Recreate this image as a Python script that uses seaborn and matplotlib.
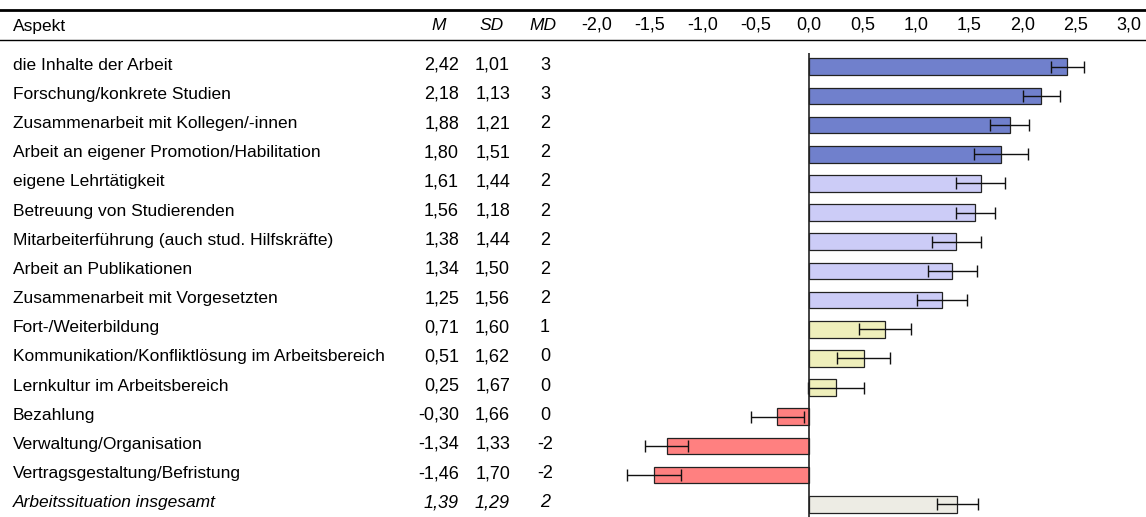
import matplotlib
matplotlib.use("Agg")
import matplotlib.pyplot as plt
import matplotlib.transforms as mtransforms
from matplotlib.lines import Line2D
import seaborn as sns
import pandas as pd

aspects = [
    "die Inhalte der Arbeit",
    "Forschung/konkrete Studien",
    "Zusammenarbeit mit Kollegen/-innen",
    "Arbeit an eigener Promotion/Habilitation",
    "eigene Lehrtätigkeit",
    "Betreuung von Studierenden",
    "Mitarbeiterführung (auch stud. Hilfskräfte)",
    "Arbeit an Publikationen",
    "Zusammenarbeit mit Vorgesetzten",
    "Fort-/Weiterbildung",
    "Kommunikation/Konfliktlösung im Arbeitsbereich",
    "Lernkultur im Arbeitsbereich",
    "Bezahlung",
    "Verwaltung/Organisation",
    "Vertragsgestaltung/Befristung",
    "Arbeitssituation insgesamt",
]
means = [2.42, 2.18, 1.88, 1.80, 1.61, 1.56, 1.38, 1.34, 1.25, 0.71, 0.51, 0.25, -0.30, -1.34, -1.46, 1.39]
sds = [1.01, 1.13, 1.21, 1.51, 1.44, 1.18, 1.44, 1.50, 1.56, 1.60, 1.62, 1.67, 1.66, 1.33, 1.70, 1.29]
mds = [3, 3, 2, 2, 2, 2, 2, 2, 2, 1, 0, 0, 0, -2, -2, 2]
# half-width of the error bars
err = [0.155, 0.178, 0.18, 0.25, 0.228, 0.185, 0.23, 0.23, 0.235, 0.248, 0.246, 0.26, 0.25, 0.20, 0.255, 0.193]
groups = ["hoch"] * 4 + ["mittel"] * 5 + ["gering"] * 3 + ["negativ"] * 3 + ["gesamt"]
group_colors = {"hoch": "#7080CC", "mittel": "#CCCCF7", "gering": "#EFEFBB",
                "negativ": "#FF8080", "gesamt": "#EDECE4"}
xticks = [-2.0, -1.5, -1.0, -0.5, 0.0, 0.5, 1.0, 1.5, 2.0, 2.5, 3.0]

df = pd.DataFrame({"Aspekt": aspects, "M": means, "Gruppe": groups})

W, H = 1146, 517
fig = plt.figure(figsize=(W / 100, H / 100), dpi=100)
plt.rcParams["font.family"] = ["Liberation Sans", "DejaVu Sans"]
FS = 12.5     # labels
FN = 13.0     # numbers

# axes geometry (pixels)
ax_left, ax_right, ax_top, ax_bottom = 570, 1146, 40, 517
ax = fig.add_axes([ax_left / W, 1 - ax_bottom / H, (ax_right - ax_left) / W, (ax_bottom - ax_top) / H])

sns.barplot(data=df, x="M", y="Aspekt", hue="Gruppe", palette=group_colors, dodge=False,
            orient="h", legend=False, width=0.57, edgecolor="#222222", linewidth=0.9,
            saturation=1, errorbar=None, ax=ax)
ax.errorbar(means, list(range(len(means))), xerr=err, fmt="none", ecolor="#111111",
            elinewidth=1.0, capsize=4.5, capthick=1.0, zorder=5)

zero_px, unit_px = 809.3, 106.5
ax.set_xlim((ax_left - zero_px) / unit_px, (ax_right - zero_px) / unit_px)
row0, step = 66.7, 29.17
ax.set_ylim((ax_bottom - row0) / step, (ax_top - row0) / step)
ax.vlines(0, (53 - row0) / step, (ax_bottom - row0) / step, color="#222222", lw=1.2, zorder=6)

ax.xaxis.tick_top()
ax.set_xticks(xticks)
ax.set_xticklabels([f"{t:.1f}".replace(".", ",") for t in xticks], fontsize=FN)
ax.tick_params(axis="x", length=0, pad=5.0)
ax.set_yticks([])
ax.set_xlabel("")
ax.set_ylabel("")
for s in ax.spines.values():
    s.set_visible(False)
ax.patch.set_alpha(0)

# table text
tr = mtransforms.blended_transform_factory(fig.transFigure, ax.transData)
hy = 1 - 26 / H
fig.text(13 / W, hy, "Aspekt", ha="left", va="center", fontsize=FS)
fig.text(439 / W, hy, "M", ha="center", va="center", fontsize=FS, style="italic")
fig.text(492 / W, hy, "SD", ha="center", va="center", fontsize=FS, style="italic")
fig.text(543 / W, hy, "MD", ha="center", va="center", fontsize=FS, style="italic")

fmt = lambda v: f"{v:.2f}".replace(".", ",")
for i, (a, m, s, d) in enumerate(zip(aspects, means, sds, mds)):
    st = "italic" if i == len(aspects) - 1 else "normal"
    y = i - 0.05
    ax.text(13 / W, y, a, transform=tr, ha="left", va="center", fontsize=FS, style=st)
    ax.text(459 / W, y, fmt(m), transform=tr, ha="right", va="center", fontsize=FN, style=st)
    ax.text(510 / W, y, fmt(s), transform=tr, ha="right", va="center", fontsize=FN, style=st)
    ax.text(545 / W, y, f"{d}", transform=tr, ha="center", va="center", fontsize=FN, style=st)

fig.add_artist(Line2D([0, 1], [1 - 10 / H, 1 - 10 / H], color="black", lw=2.0, transform=fig.transFigure))
fig.add_artist(Line2D([0, 1], [1 - 39.5 / H, 1 - 39.5 / H], color="black", lw=1.0, transform=fig.transFigure))

fig.savefig("out.png", dpi=100)
